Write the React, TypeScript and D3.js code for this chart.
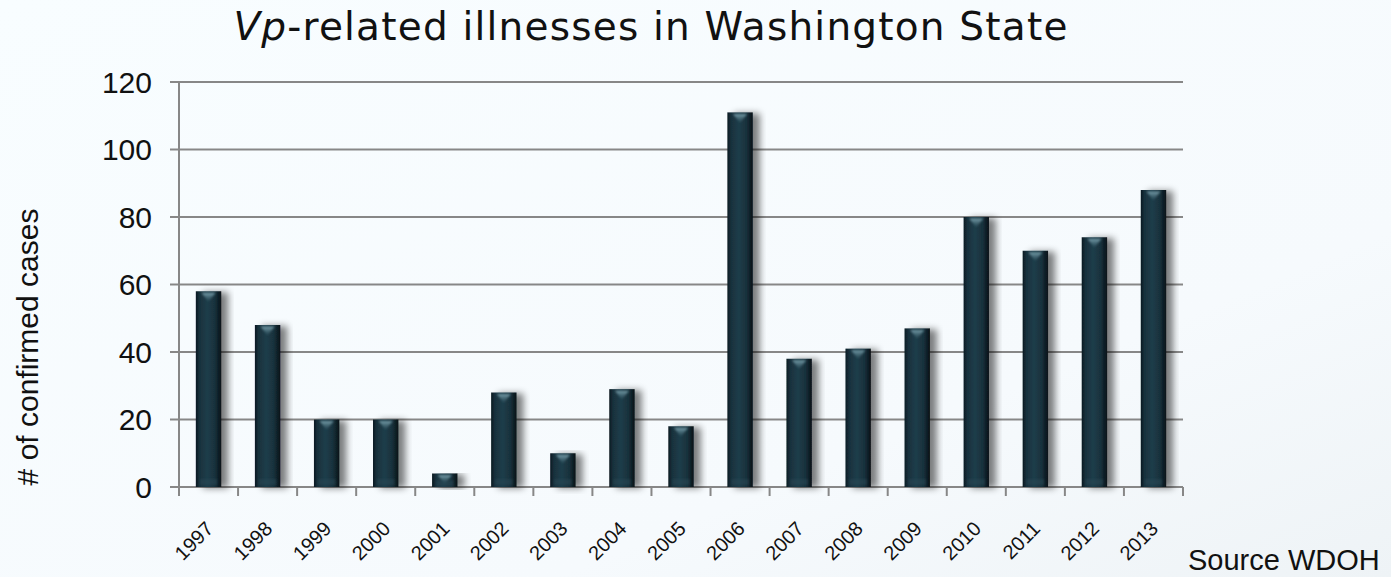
import React from "react";
import * as d3 from "d3";

const years = ["1997","1998","1999","2000","2001","2002","2003","2004","2005","2006","2007","2008","2009","2010","2011","2012","2013"];
const cases = [58, 48, 20, 20, 4, 28, 10, 29, 18, 111, 38, 41, 47, 80, 70, 74, 88];
const yTicks = [0, 20, 40, 60, 80, 100, 120];

const W = 1391;
const H = 577;
const left = 179;
const right = 1183;
const top = 82;
const bottom = 487;

export default function App() {
  const x = d3.scaleBand<string>().domain(years).range([left, right]).paddingInner(0.57).paddingOuter(0.285);
  const y = d3.scaleLinear().domain([0, 120]).range([bottom, top]);
  const step = x.step();
  const bw = x.bandwidth();
  const boundaries = d3.range(years.length + 1).map((i) => left + i * step);
  const axisColor = "#878787";

  return (
    <svg width={W} height={H} style={{ position: "absolute", left: 0, top: 0, display: "block" }}>
      <defs>
        <linearGradient id="bg" x1="0" y1="0" x2="1" y2="1">
          <stop offset="0%" stopColor="#f8fdff" />
          <stop offset="70%" stopColor="#f6fafd" />
          <stop offset="100%" stopColor="#eef3f6" />
        </linearGradient>
        <linearGradient id="barFill" x1="0" y1="0" x2="1" y2="0">
          <stop offset="0%" stopColor="#0b1a22" />
          <stop offset="15%" stopColor="#18313d" />
          <stop offset="45%" stopColor="#1f3d4a" />
          <stop offset="75%" stopColor="#18313c" />
          <stop offset="100%" stopColor="#071217" />
        </linearGradient>
        <linearGradient id="cap" x1="0" y1="0" x2="0" y2="1">
          <stop offset="0%" stopColor="#7fa6b2" stopOpacity="0.95" />
          <stop offset="100%" stopColor="#3a5f6c" stopOpacity="0.2" />
        </linearGradient>
        <filter id="shadow" x="-30%" y="-10%" width="180%" height="130%">
          <feGaussianBlur in="SourceAlpha" stdDeviation="3.5" />
          <feOffset dx="7" dy="1" result="blur" />
          <feComponentTransfer>
            <feFuncA type="linear" slope="0.5" />
          </feComponentTransfer>
          <feMerge>
            <feMergeNode />
            <feMergeNode in="SourceGraphic" />
          </feMerge>
        </filter>
        <filter id="soft" x="-50%" y="-50%" width="200%" height="200%">
          <feGaussianBlur stdDeviation="1" />
        </filter>
      </defs>

      <rect x={0} y={0} width={W} height={H} fill="url(#bg)" />

      <text x={651} y={40} textAnchor="middle" fontFamily="'DejaVu Sans', Verdana, sans-serif" fontSize={39} letterSpacing={1.2} fill="#111">
        <tspan fontStyle="italic">Vp</tspan>-related illnesses in Washington State
      </text>

      {/* gridlines and y ticks */}
      {yTicks.map((t) => (
        <g key={t}>
          <line x1={170} x2={right} y1={y(t)} y2={y(t)} stroke={axisColor} strokeWidth={2} />
          <text x={152} y={y(t)} dy="0.35em" textAnchor="end" fontFamily="'Liberation Sans', Arial, sans-serif" fontSize={30} fill="#111">
            {t}
          </text>
        </g>
      ))}
      <line x1={left} x2={left} y1={top - 1} y2={bottom + 1} stroke={axisColor} strokeWidth={2} />

      {/* x ticks */}
      {boundaries.map((bx, i) => (
        <line key={i} x1={bx} x2={bx} y1={bottom} y2={bottom + 9} stroke={axisColor} strokeWidth={2} />
      ))}

      {/* bars */}
      {years.map((yr, i) => {
        const bx = x(yr) as number;
        const by = y(cases[i]);
        const bh = bottom - by;
        const cx = bx + bw / 2;
        const capH = Math.min(9, bh - 2);
        return (
          <g key={yr}>
            <rect x={bx} y={by} width={bw} height={bh} fill="url(#barFill)" filter="url(#shadow)" />
            <path
              d={`M${cx - 7},${by + 1.5} L${cx + 7},${by + 1.5} L${cx},${by + 1.5 + capH} Z`}
              fill="url(#cap)"
              filter="url(#soft)"
            />
            <rect x={bx + 4} y={bottom - Math.min(8, bh / 2)} width={bw - 8} height={Math.min(6, bh / 2)} fill="#2c4a57" opacity={0.5} filter="url(#soft)" />
          </g>
        );
      })}

      {/* x labels */}
      {years.map((yr) => {
        const cx = (x(yr) as number) + bw / 2;
        return (
          <text
            key={yr}
            transform={`translate(${cx + 6},${530}) rotate(-45)`}
            textAnchor="end"
            fontFamily="'Liberation Sans', Arial, sans-serif"
            fontSize={20}
            fill="#111"
          >
            {yr}
          </text>
        );
      })}

      <text transform="translate(38,347) rotate(-90)" textAnchor="middle" fontFamily="'Liberation Sans', Arial, sans-serif" fontSize={30} fill="#111">
        # of confirmed cases
      </text>

      <text x={1188} y={570} fontFamily="'Liberation Sans', Arial, sans-serif" fontSize={29} fill="#111">
        Source WDOH
      </text>
    </svg>
  );
}
